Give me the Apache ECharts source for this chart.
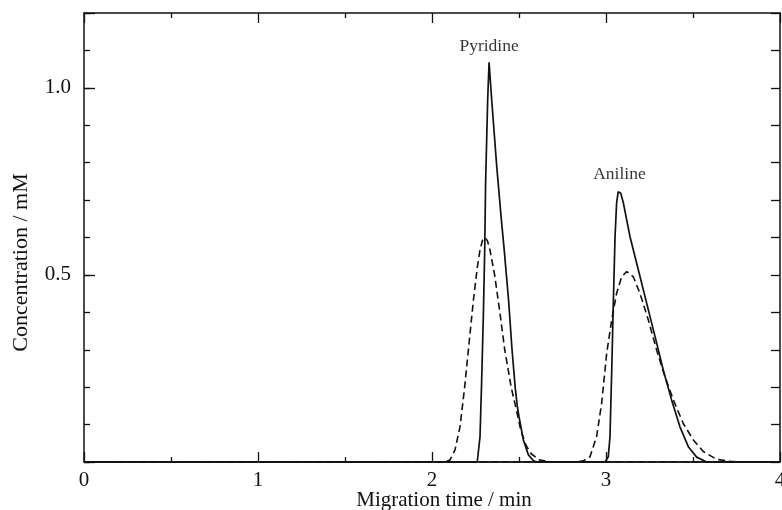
<!DOCTYPE html>
<html>
<head>
<meta charset="utf-8">
<script src="https://cdn.jsdelivr.net/npm/echarts@6/dist/echarts.min.js"></script>
<style>
html,body{margin:0;padding:0;background:#fff;}
#chart{width:782px;height:510px;}
</style>
</head>
<body>
<div id="chart"></div>
<script>
// ---- data (migration time in min, concentration in mM) ----
const pyridineSolid = [[0,0],[2.26,0],[2.266,0.005],[2.276,0.068],[2.285,0.21],[2.295,0.389],[2.303,0.567],[2.308,0.745],[2.320,0.968],[2.328,1.068],[2.343,0.968],[2.372,0.79],[2.397,0.656],[2.415,0.567],[2.44,0.433],[2.46,0.30],[2.478,0.2],[2.49,0.15],[2.50,0.121],[2.525,0.059],[2.554,0.019],[2.582,0.004],[2.60,0],[4,0]];
const pyridineDashed = [[0,0],[2.07,0],[2.103,0.005],[2.132,0.032],[2.161,0.094],[2.186,0.193],[2.209,0.299],[2.238,0.433],[2.261,0.522],[2.276,0.567],[2.290,0.592],[2.303,0.600],[2.318,0.592],[2.333,0.567],[2.36,0.50],[2.39,0.40],[2.418,0.30],[2.455,0.20],[2.488,0.133],[2.51,0.085],[2.54,0.045],[2.57,0.022],[2.62,0.005],[2.68,0],[4,0]];
const anilineSolid = [[0,0],[2.995,0],[3.0,0.002],[3.013,0.014],[3.023,0.068],[3.033,0.246],[3.042,0.424],[3.052,0.602],[3.061,0.692],[3.070,0.722],[3.077,0.727],[3.085,0.718],[3.100,0.692],[3.138,0.602],[3.186,0.513],[3.234,0.424],[3.282,0.335],[3.329,0.246],[3.377,0.166],[3.425,0.094],[3.473,0.041],[3.521,0.013],[3.578,0],[4,0]];
const anilineDashed = [[0,0],[2.83,0],[2.870,0.003],[2.908,0.014],[2.946,0.068],[2.975,0.157],[3.004,0.291],[3.033,0.380],[3.061,0.451],[3.090,0.495],[3.119,0.509],[3.157,0.495],[3.195,0.451],[3.243,0.380],[3.291,0.299],[3.339,0.228],[3.387,0.166],[3.444,0.103],[3.502,0.059],[3.559,0.028],[3.636,0.007],[3.713,0.002],[3.76,0],[4,0]];
const peakNames = ['Pyridine', 'Aniline'];
const peakTimes = [2.328, 3.077];
const peakConcs = [1.068, 0.727];
const xTickLabels = ['0', '1', '2', '3', '4'];
const yTickLabels = ['0.5', '1.0'];
const xTitle = 'Migration time / min';
const yTitle = 'Concentration / mM';

// ---- chart ----
const FONT = '"Liberation Serif", "DejaVu Serif", serif';
const INK = '#111111';
const axisLineStyle = { color: INK, width: 1.5 };
const tickStyle = { color: INK, width: 1.3 };

const chart = echarts.init(document.getElementById('chart'), null, { renderer: 'canvas' });

const xAxisBase = {
  type: 'value', min: 0, max: 4, interval: 1,
  splitLine: { show: false },
  axisLine: { show: true, onZero: false, lineStyle: axisLineStyle },
  axisTick: { show: true, inside: true, length: 10, lineStyle: tickStyle },
  minorTick: { show: true, splitNumber: 2, length: 5, lineStyle: tickStyle },
  minorSplitLine: { show: false }
};
const yAxisBase = {
  type: 'value', min: 0, max: 1.2,
  splitLine: { show: false },
  axisLine: { show: true, onZero: false, lineStyle: axisLineStyle }
};

function xLabel(v) {
  const s = String(Math.round(v));
  return (Math.abs(v - Math.round(v)) < 1e-6 && xTickLabels.indexOf(s) >= 0) ? s : '';
}
function yLabel(v) {
  const s = v.toFixed(1);
  return yTickLabels.indexOf(s) >= 0 ? s : '';
}

chart.setOption({
  animation: false,
  backgroundColor: '#fff',
  grid: { left: 84, right: 2, top: 13, bottom: 48, containLabel: false, outerBoundsMode: 'none' },
  xAxis: [
    Object.assign({}, xAxisBase, {
      position: 'bottom',
      axisLabel: { show: true, formatter: xLabel, fontFamily: FONT, fontSize: 21, color: INK, margin: 8 },
      name: xTitle, nameLocation: 'middle', nameGap: 38, nameMoveOverlap: false,
      nameTextStyle: { fontFamily: FONT, fontSize: 21, color: INK, verticalAlign: 'middle', padding: [0, 0, 0, 24] }
    }),
    Object.assign({}, xAxisBase, {
      position: 'top',
      axisLabel: { show: false }
    })
  ],
  yAxis: [
    Object.assign({}, yAxisBase, {
      position: 'left', interval: 0.1,
      axisTick: { show: true, inside: true, length: 6, lineStyle: tickStyle },
      axisLabel: { show: false }
    }),
    Object.assign({}, yAxisBase, {
      position: 'left', interval: 0.5,
      axisLine: { show: false, onZero: false },
      axisTick: { show: true, inside: true, length: 11, lineStyle: tickStyle },
      axisLabel: { show: true, formatter: yLabel, fontFamily: FONT, fontSize: 21, color: INK, margin: 13 },
      name: yTitle, nameLocation: 'middle', nameGap: 52, nameRotate: 90,
      nameTextStyle: { fontFamily: FONT, fontSize: 22, color: INK, padding: [0, 50, 0, 0] }
    }),
    Object.assign({}, yAxisBase, {
      position: 'right', interval: 0.1,
      axisTick: { show: true, inside: true, length: 9, lineStyle: tickStyle },
      axisLabel: { show: false }
    })
  ],
  series: [
    { type: 'line', data: pyridineSolid, xAxisIndex: 0, yAxisIndex: 0, showSymbol: false, symbol: 'none',
      lineStyle: { color: INK, width: 1.7, type: 'solid' }, z: 3 },
    { type: 'line', data: anilineSolid, xAxisIndex: 0, yAxisIndex: 0, showSymbol: false, symbol: 'none',
      lineStyle: { color: INK, width: 1.7, type: 'solid' }, z: 3 },
    { type: 'line', data: pyridineDashed, xAxisIndex: 0, yAxisIndex: 0, showSymbol: false, symbol: 'none',
      lineStyle: { color: INK, width: 1.6, type: [7, 4] }, z: 2 },
    { type: 'line', data: anilineDashed, xAxisIndex: 0, yAxisIndex: 0, showSymbol: false, symbol: 'none',
      lineStyle: { color: INK, width: 1.6, type: [7, 4] }, z: 2 },
    { type: 'scatter', xAxisIndex: 0, yAxisIndex: 0, symbolSize: 0, silent: true,
      data: peakNames.map((n, i) => ({ name: n, value: [peakTimes[i], peakConcs[i]] })),
      label: { show: true, position: 'top', distance: 7, formatter: p => p.name,
        fontFamily: FONT, fontSize: 17.5, color: '#000' } }
  ]
});
</script>
</body>
</html>
